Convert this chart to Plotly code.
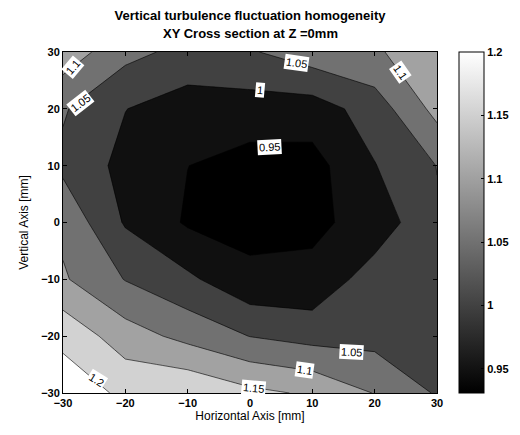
import plotly.graph_objects as go

# grid (mm)
x_mm = [-30, -20, -10, 0, 10, 20, 30]
y_mm = [-30, -20, -10, 0, 10, 20, 30]

# homogeneity values, rows from y=-30 (bottom) to y=30 (top)
row_m30 = [1.230, 1.190, 1.195, 1.162, 1.143, 1.098, 1.045]
row_m20 = [1.187, 1.123, 1.085, 1.049, 1.032, 1.032, 1.040]
row_m10 = [1.106, 1.048, 1.010, 0.961, 0.962, 1.026, 1.035]
row_0 = [1.088, 0.995, 0.944, 0.935, 0.940, 0.968, 1.045]
row_p10 = [1.039, 0.985, 0.9505, 0.931, 0.932, 0.998, 1.051]
row_p20 = [1.055, 1.001, 0.9747, 0.977, 0.9755, 1.023, 1.116]
row_p30 = [1.130, 1.065, 1.035, 1.045, 1.078, 1.094, 1.130]
z = [row_m30, row_m20, row_m10, row_0, row_p10, row_p20, row_p30]

levels_start, levels_end, levels_step = 0.95, 1.2, 0.05
cbar_min, cbar_max = 0.931, 1.2
cbar_ticks = [0.95, 1.0, 1.05, 1.1, 1.15, 1.2]
cbar_text = ["0.95", "1", "1.05", "1.1", "1.15", "1.2"]
axis_ticks = [-30, -20, -10, 0, 10, 20, 30]

title_line1 = "Vertical turbulence fluctuation homogeneity"
title_line2 = "XY Cross section at Z =0mm"

# contour label placement (text, x, y, angle)
label_text = ["1.1", "1.05", "1.05", "1", "1.1", "0.95", "1.05", "1.1", "1.15", "1.2"]
label_x = [-28.4, -27.2, 7.5, 1.6, 24.1, 3.2, 16.3, 8.8, 0.5, -24.6]
label_y = [27.4, 21.0, 28.1, 23.3, 26.5, 13.3, -22.7, -26.0, -29.2, -27.7]
label_ang = [-50, -38, 8, 5, 55, -3, 3, 8, 5, 32]

# band colours (MATLAB gray colormap look)
band_scale = [
    [0.0, "rgb(0,0,0)"],
    [1/6, "rgb(16,16,16)"],
    [2/6, "rgb(65,65,65)"],
    [3/6, "rgb(113,113,113)"],
    [4/6, "rgb(162,162,162)"],
    [5/6, "rgb(210,210,210)"],
    [1.0, "rgb(255,255,255)"],
]

fig = go.Figure()
fig.add_trace(go.Contour(
    x=x_mm, y=y_mm, z=z,
    autocontour=False,
    contours=dict(start=levels_start, end=levels_end, size=levels_step,
                  coloring="fill", showlabels=False),
    colorscale=band_scale,
    line=dict(color="black", width=0.6, smoothing=0),
    showscale=False,
    hoverinfo="skip",
))

# continuous colorbar
fig.add_trace(go.Scatter(
    x=[None, None], y=[None, None], mode="markers",
    marker=dict(color=[cbar_min, cbar_max], cmin=cbar_min, cmax=cbar_max,
                colorscale=[[0, "black"], [1, "white"]], showscale=True,
                colorbar=dict(
                    x=1.0588, xanchor="left", xpad=0, ypad=0,
                    y=0.5, yanchor="middle", len=1, lenmode="fraction",
                    thickness=25, outlinewidth=1, outlinecolor="black",
                    tickvals=cbar_ticks, ticktext=cbar_text,
                    ticks="inside", ticklen=3, tickcolor="black",
                    tickfont=dict(family="Liberation Sans", size=11, color="black", weight="bold"),
                )),
    showlegend=False, hoverinfo="skip",
))

for t, lx, ly, a in zip(label_text, label_x, label_y, label_ang):
    fig.add_annotation(x=lx, y=ly, xref="x", yref="y", text=t, showarrow=False,
                       textangle=a, bgcolor="white", borderpad=1,
                       font=dict(family="Liberation Sans", size=11, color="black"))

# second title line
fig.add_annotation(x=0.5, y=1, xref="paper", yref="paper", xanchor="center",
                   yanchor="middle", yshift=19, showarrow=False,
                   text="<b>" + title_line2 + "</b>",
                   font=dict(family="Liberation Sans", size=13, color="black"))

axis_common = dict(
    range=[-30, 30], tickvals=axis_ticks, ticks="inside", ticklen=4,
    tickcolor="black", showline=True, linecolor="black", linewidth=1,
    mirror="ticks", showgrid=False, zeroline=False,
    tickfont=dict(family="Liberation Sans", size=11, color="black", weight="bold"),
)

# page body has an 8px margin, so the figure is drawn 8px smaller and shifted
fig.update_layout(
    width=512, height=427,
    margin=dict(l=55, r=83, t=44, b=42, autoexpand=False),
    paper_bgcolor="white", plot_bgcolor="white",
    title=dict(
        text="<b>" + title_line1 + "</b>",
        x=0.5, xref="paper", xanchor="center",
        y=1 - 7/427, yref="container", yanchor="middle",
        font=dict(family="Liberation Sans", size=13, color="black"),
    ),
    xaxis=dict(axis_common, title=dict(text="Horizontal Axis [mm]", standoff=0,
               font=dict(family="Liberation Sans", size=12, color="black"))),
    yaxis=dict(axis_common, title=dict(text="Vertical Axis [mm]", standoff=9,
               font=dict(family="Liberation Sans", size=12, color="black"))),
    showlegend=False,
)

fig.write_html("out.html")
